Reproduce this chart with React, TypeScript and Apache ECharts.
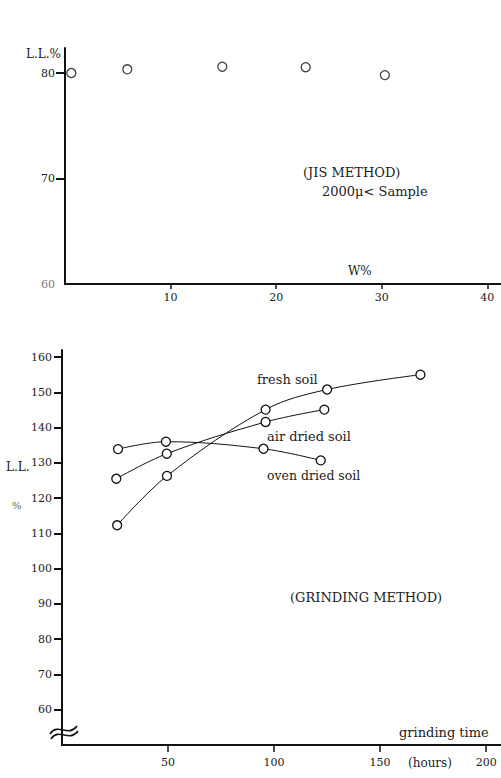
import React, { useEffect, useRef } from "react";
import * as echarts from "echarts";

// ---- Top chart (JIS method) ----
const jisW = [0.6, 5.9, 14.9, 22.8, 30.3];
const jisLL = [80.0, 80.35, 80.6, 80.55, 79.8];
const jisXTicks = [10, 20, 30, 40];
const jisYTicks = [70, 80];
const jisYLabels = [60, 70, 80];

// ---- Bottom chart (grinding method) ----
const freshHours = [26, 49.5, 96, 125, 169];
const freshLL = [112.3, 126.3, 145.1, 150.8, 155.0];
const airHours = [25.6, 49.4, 96, 123.7];
const airLL = [125.5, 132.6, 141.6, 145.1];
const ovenHours = [26.4, 49, 95, 122];
const ovenLL = [133.9, 136.0, 134.0, 130.7];
const grindXTicks = [50, 100, 150, 200];
const grindYTicks = [60, 70, 80, 90, 100, 110, 120, 130, 140, 150, 160];

const FONT = "DejaVu Serif";
const INK = "#111";
const TXT = "#222";

const zip = (xs: number[], ys: number[]) => xs.map((x, i) => [x, ys[i]]);

const txt = (text: string, x: number, y: number, size = 13, fill = TXT) => ({
  type: "text",
  x,
  y,
  style: { text, fontFamily: FONT, fontSize: size, fill, align: "left", verticalAlign: "middle" },
});

export default function App() {
  const ref = useRef<HTMLDivElement>(null);
  useEffect(() => {
    if (!ref.current) return;
    const chart = echarts.init(ref.current, undefined, { renderer: "svg" });
    const symbolStyle = { color: "#fff", borderColor: INK, borderWidth: 1.3 };
    const lineSeries = (name: string, xs: number[], ys: number[]) => ({
      name,
      type: "line",
      xAxisIndex: 1,
      yAxisIndex: 1,
      data: zip(xs, ys),
      smooth: 0.35,
      symbol: "circle",
      symbolSize: 9,
      itemStyle: symbolStyle,
      lineStyle: { color: INK, width: 1 },
      z: 3,
    });
    chart.setOption({
      animation: false,
      backgroundColor: "#fff",
      grid: [
        { left: 65, right: 0, top: 48, bottom: 494 },
        { left: 62, right: 0, top: 350, bottom: 33 },
      ],
      xAxis: [
        {
          type: "value",
          gridIndex: 0,
          min: 0,
          max: 41.3,
          splitLine: { show: false },
          axisLine: { lineStyle: { color: INK, width: 2 } },
          axisTick: { customValues: jisXTicks, length: 5, lineStyle: { color: INK, width: 1.5 } },
          axisLabel: { customValues: jisXTicks, margin: 8, fontFamily: FONT, fontSize: 11, color: TXT },
        },
        {
          type: "value",
          gridIndex: 1,
          min: 0,
          max: 207,
          splitLine: { show: false },
          axisLine: { lineStyle: { color: INK, width: 2 } },
          axisTick: { customValues: grindXTicks, length: 7, lineStyle: { color: INK, width: 1.5 } },
          axisLabel: { customValues: grindXTicks, margin: 12, fontFamily: FONT, fontSize: 11, color: TXT },
        },
      ],
      yAxis: [
        {
          type: "value",
          gridIndex: 0,
          min: 60,
          max: 82.37,
          splitLine: { show: false },
          axisLine: { lineStyle: { color: INK, width: 2 } },
          axisTick: { customValues: jisYTicks, length: 9, lineStyle: { color: INK, width: 2 } },
          axisLabel: {
            customValues: jisYLabels,
            margin: 10,
            fontFamily: FONT,
            fontSize: 11,
            color: (v: string) => (Number(v) === 60 ? "#777" : TXT),
          },
        },
        {
          type: "value",
          gridIndex: 1,
          min: 50,
          max: 162,
          splitLine: { show: false },
          axisLine: { lineStyle: { color: INK, width: 2 } },
          axisTick: { customValues: grindYTicks, length: 8, lineStyle: { color: INK, width: 2 } },
          axisLabel: { customValues: grindYTicks, margin: 10, fontFamily: FONT, fontSize: 11, color: TXT },
        },
      ],
      series: [
        {
          name: "JIS",
          type: "scatter",
          xAxisIndex: 0,
          yAxisIndex: 0,
          data: zip(jisW, jisLL),
          symbol: "circle",
          symbolSize: 9,
          itemStyle: symbolStyle,
          z: 3,
        },
        lineSeries("fresh soil", freshHours, freshLL),
        lineSeries("air dried soil", airHours, airLL),
        lineSeries("oven dried soil", ovenHours, ovenLL),
      ],
      graphic: [
        txt("L.L.%", 26, 54, 12),
        txt("(JIS METHOD)", 303, 172, 13),
        txt("2000μ< Sample", 322, 191, 13),
        txt("W%", 348, 271, 12),
        txt("fresh soil", 257, 379, 13),
        txt("air dried soil", 267, 436, 13),
        txt("oven dried soil", 267, 475, 12.5),
        txt("(GRINDING METHOD)", 290, 597, 13),
        txt("grinding time", 399, 732, 13),
        txt("(hours)", 408, 763, 12),
        txt("L.L.", 6, 467, 12),
        txt("%", 12, 505, 10, "#666"),
        {
          type: "bezierCurve",
          shape: { x1: 50, y1: 734, x2: 77, y2: 726, cpx1: 58, cpy1: 722, cpx2: 68, cpy2: 738 },
          style: { stroke: INK, lineWidth: 1.6, fill: "none" },
          z: 10,
        },
        {
          type: "bezierCurve",
          shape: { x1: 51, y1: 739, x2: 78, y2: 731, cpx1: 59, cpy1: 727, cpx2: 69, cpy2: 743 },
          style: { stroke: INK, lineWidth: 1.6, fill: "none" },
          z: 10,
        },
      ],
    });
    return () => chart.dispose();
  }, []);
  return (
    <div
      ref={ref}
      style={{ position: "fixed", left: 0, top: 0, width: 501, height: 778, background: "#fff" }}
    />
  );
}
